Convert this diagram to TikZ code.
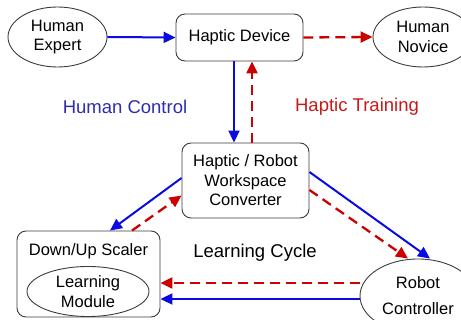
\documentclass[tikz,border=0pt]{standalone}
\usepackage{fontspec}
\setmainfont{Liberation Sans}
\usetikzlibrary{arrows.meta,shapes.geometric}
\definecolor{ablue}{RGB}{10,10,225}
\definecolor{ared}{RGB}{205,0,0}
\definecolor{lblue}{RGB}{45,45,175}
\definecolor{lred}{RGB}{200,25,25}
\definecolor{edge}{RGB}{60,60,60}
\tikzset{
  txt/.style={font=\fontsize{16.5}{19.5}\selectfont, align=center, text=black},
  lbl/.style={font=\fontsize{18.5}{22}\selectfont, inner sep=0pt},
  ell/.style={ellipse, draw=edge, line width=0.9pt, inner sep=0pt, txt},
  rbox/.style={rectangle, rounded corners=9pt, draw=edge, line width=0.9pt, inner sep=0pt, txt},
  bluearr/.style={draw=ablue, line width=2pt, -{Triangle[length=12pt,width=11pt]}},
  redarr/.style={draw=ared, line width=2.3pt, dash pattern=on 10pt off 6pt, -{Triangle[length=12pt,width=11pt]}},
}
\begin{document}
\begin{tikzpicture}[x=1pt,y=-1pt]
\useasboundingbox (0,0) rectangle (461,320);
\begin{scope}
\clip (0,0) rectangle (461,320);
\node[ell, minimum width=99pt, minimum height=60pt] (exp) at (57.5,37) {Human\\Expert};
\node[rbox, minimum width=127pt, minimum height=47pt] (dev) at (239.5,37.5) {Haptic Device};
\node[ell, minimum width=100pt, minimum height=60pt] (nov) at (423,37) {Human\\Novice};
\node[rbox, minimum width=127pt, minimum height=75pt] (conv) at (245.5,180.5) {Haptic / Robot\\Workspace\\Converter};
\node[rbox, minimum width=143pt, minimum height=86pt] (scal) at (88.5,274) {};
\node[txt, inner sep=0pt] (scallbl) at (88.5,251) {Down/Up Scaler};
\node[ell, minimum width=122pt, minimum height=50pt] (learn) at (88,291.5) {Learning\\Module};
\node[ell, minimum width=116pt, minimum height=74pt, font=\fontsize{16.5}{26}\selectfont] (rob) at (418,296) {Robot\\Controller};

\node[lbl, text=lblue] (hc) at (125,107) {Human Control};
\node[lbl, text=lred] (ht) at (357,107) {Haptic Training};
\node[lbl, text=black] (lc) at (255,253) {Learning Cycle};

\draw[bluearr] (exp.east) -- (dev.west);
\draw[redarr] (dev.east) -- (nov.west);
\draw[bluearr] ([xshift=-5.5pt]dev.south) -- ([xshift=-5.5pt]dev.south |- conv.north);
\draw[redarr] ([xshift=12.5pt]dev.south |- conv.north) -- ([xshift=12.5pt]dev.south);
\draw[bluearr] ([yshift=2.5pt]conv.west) -- ([xshift=21.5pt]scal.north);
\draw[redarr] ([xshift=43.5pt]scal.north) -- ([yshift=-15pt]conv.west);
\draw[bluearr] ([yshift=8.5pt]conv.east) -- ([xshift=12pt]rob.north);
\draw[redarr] ([yshift=-9.5pt]conv.east) -- ([xshift=-10pt]rob.north);
\draw[redarr] ([yshift=-9pt]scal.east -| rob.west) -- ([yshift=-9pt]scal.east);
\draw[bluearr] ([yshift=-25pt]scal.east -| rob.west) -- ([yshift=-25pt]scal.east);
\end{scope}
\end{tikzpicture}
\end{document}
